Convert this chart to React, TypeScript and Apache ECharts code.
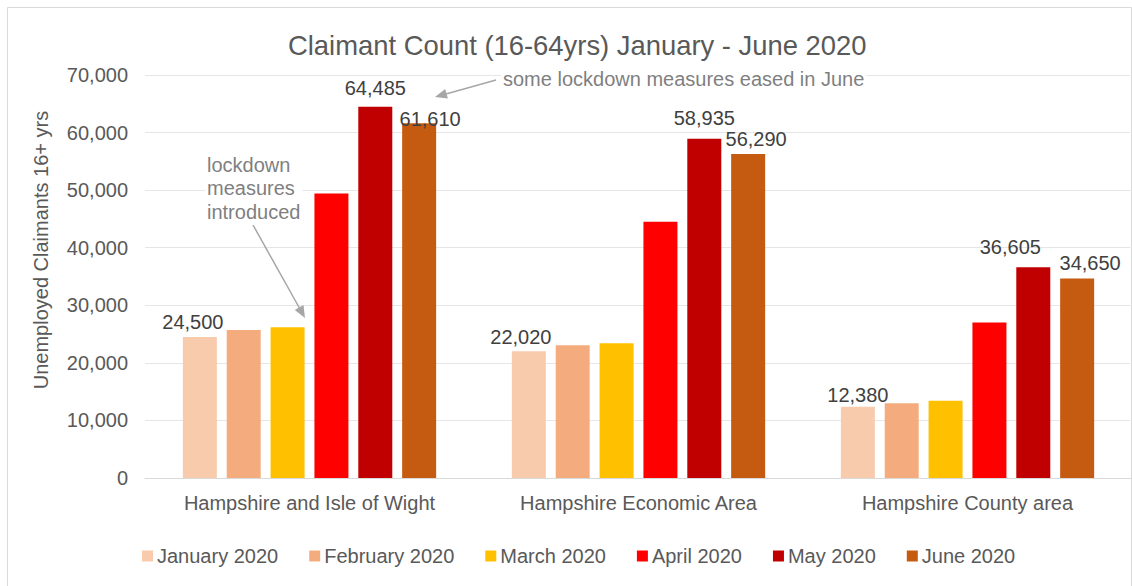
import React, { useEffect, useRef } from "react";
import * as echarts from "echarts";

const categories = ["Hampshire and Isle of Wight", "Hampshire Economic Area", "Hampshire County area"];
const months = ["January 2020", "February 2020", "March 2020", "April 2020", "May 2020", "June 2020"];
const jan = [24500, 22020, 12380];
const feb = [25700, 23050, 13000];
const mar = [26200, 23400, 13400];
const apr = [49400, 44500, 27000];
const may = [64485, 58935, 36605];
const jun = [61610, 56290, 34650];
const colors = ["#F8CBAD", "#F4AC7E", "#FFC000", "#FF0000", "#C00000", "#C55A11"];
const yMin = 0;
const yMax = 70000;
const yStep = 10000;

// which series carry value labels, and their label placement tweaks (styling only)
const labelSpec: Record<number, { dx: number; dist: number }[]> = {
  0: [{ dx: -7, dist: 5 }, { dx: -8, dist: 4 }, { dx: 0, dist: 2 }],
  4: [{ dx: 0, dist: 9 }, { dx: 0, dist: 11 }, { dx: -23, dist: 10 }],
  5: [{ dx: 11, dist: -6 }, { dx: 8, dist: 5 }, { dx: 13, dist: 6 }],
};

const FONT = "'Liberation Sans', Arial, sans-serif";

export default function App() {
  const ref = useRef<HTMLDivElement>(null);
  useEffect(() => {
    if (!ref.current) return;
    const chart = echarts.init(ref.current, null, { renderer: "svg" });
    const seriesValues = [jan, feb, mar, apr, may, jun];
    const fmt = (v: number) => v.toLocaleString("en-GB");
    const series = seriesValues.map((vals, si) => ({
      type: "bar",
      name: months[si],
      barWidth: 34,
      barGap: "29%",
      itemStyle: { color: colors[si] },
      data: vals.map((v, ci) => {
        const spec = labelSpec[si];
        if (!spec) return { value: v };
        return {
          value: v,
          label: {
            show: true,
            position: "top",
            distance: spec[ci].dist,
            offset: [spec[ci].dx, 0],
            formatter: () => fmt(v),
            color: "#404040",
            fontSize: 20,
            fontFamily: FONT,
          },
        };
      }),
    }));

    const arrowHead = (tx: number, ty: number, fx: number, fy: number) => {
      const dx = tx - fx, dy = ty - fy;
      const len = Math.sqrt(dx * dx + dy * dy);
      const ux = dx / len, uy = dy / len;
      const bx = tx - ux * 12, by = ty - uy * 12;
      const px = -uy * 5, py = ux * 5;
      return [[tx, ty], [bx + px, by + py], [bx - px, by - py]];
    };

    const option = {
      animation: false,
      title: {
        text: "Claimant Count (16-64yrs) January - June 2020",
        left: 283,
        top: 27,
        textStyle: { fontFamily: FONT, fontSize: 27.4, fontWeight: "normal", color: "#595959" },
      },
      legend: {
        data: months,
        left: 137,
        top: 541,
        itemWidth: 11,
        itemHeight: 11,
        itemGap: 31,
        icon: "rect",
        textStyle: { fontFamily: FONT, fontSize: 20, color: "#595959", padding: [0, 0, 0, -1] },
      },
      grid: { left: 145, right: -8, top: 75, bottom: 108, containLabel: false },
      xAxis: {
        type: "category",
        data: categories,
        axisLine: { lineStyle: { color: "#D9D9D9" } },
        axisTick: { show: false },
        axisLabel: { fontFamily: FONT, fontSize: 20, color: "#595959", margin: 15 },
      },
      yAxis: {
        type: "value",
        min: yMin,
        max: yMax,
        interval: yStep,
        axisLine: { show: false },
        axisTick: { show: false },
        splitLine: { lineStyle: { color: "#E6E6E6" } },
        axisLabel: {
          fontFamily: FONT,
          fontSize: 20,
          color: "#595959",
          margin: 17,
          formatter: (v: number) => fmt(v),
        },
      },
      series,
      graphic: [
        {
          type: "rect",
          silent: true,
          shape: { x: 7.5, y: 7.5, width: 1124, height: 600 },
          style: { fill: "none", stroke: "#D9D9D9", lineWidth: 1 },
          z: -10,
        },
        {
          type: "text",
          x: 41,
          y: 250,
          rotation: Math.PI / 2,
          style: {
            text: "Unemployed Claimants 16+ yrs",
            fontFamily: FONT,
            fontSize: 20,
            fill: "#595959",
            textAlign: "center",
            textVerticalAlign: "middle",
          },
        },
        {
          type: "text",
          x: 205,
          y: 151,
          z: 10,
          style: {
            text: "lockdown\nmeasures\nintroduced",
            fontFamily: FONT,
            fontSize: 20,
            lineHeight: 23.5,
            fill: "#7F7F7F",
            textAlign: "left",
            backgroundColor: "#fff",
            padding: [2, 2, 2, 2],
          },
        },
        {
          type: "line",
          z: 10,
          shape: { x1: 253, y1: 225, x2: 300, y2: 309 },
          style: { stroke: "#A6A6A6", lineWidth: 1.5 },
        },
        {
          type: "polygon",
          z: 10,
          shape: { points: arrowHead(305, 318, 253, 225) },
          style: { fill: "#A6A6A6" },
        },
        {
          type: "text",
          x: 501,
          y: 79,
          z: 10,
          style: {
            text: "some lockdown measures eased in June",
            fontFamily: FONT,
            fontSize: 20,
            fill: "#7F7F7F",
            textAlign: "left",
            textVerticalAlign: "middle",
            backgroundColor: "#fff",
            padding: [2, 2, 2, 2],
          },
        },
        {
          type: "line",
          z: 10,
          shape: { x1: 496, y1: 80, x2: 446, y2: 94 },
          style: { stroke: "#A6A6A6", lineWidth: 1.5 },
        },
        {
          type: "polygon",
          z: 10,
          shape: { points: arrowHead(435, 97, 496, 80) },
          style: { fill: "#A6A6A6" },
        },
      ],
    };
    chart.setOption(option as any);
    return () => chart.dispose();
  }, []);
  return (
    <div
      ref={ref}
      style={{ position: "absolute", left: 0, top: 0, width: 1132, height: 586, background: "#fff" }}
    />
  );
}
